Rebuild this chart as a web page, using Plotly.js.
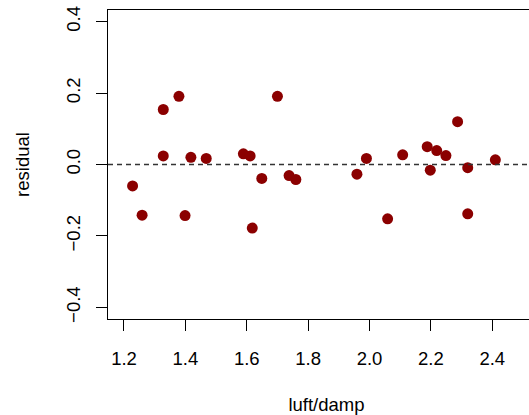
<!DOCTYPE html>
<html>
<head>
<meta charset="utf-8">
<script src="https://cdn.plot.ly/plotly-3.0.1.min.js"></script>
<style>
html, body { margin: 0; padding: 0; background: #fff; overflow: hidden; width: 529px; height: 415px; }
#chart { width: 560px; height: 415px; }
</style>
</head>
<body>
<div id="chart"></div>
<script>
// luft/damp ratio (x) and residuals (y)
const luftDamp = [1.228, 1.259, 1.328, 1.328, 1.379, 1.399, 1.418, 1.468,
                  1.589, 1.611, 1.618, 1.649, 1.700, 1.738, 1.760,
                  1.959, 1.990, 2.059, 2.108, 2.188, 2.198, 2.219, 2.249,
                  2.287, 2.320, 2.320, 2.410];
const residual = [-0.060, -0.142, 0.154, 0.024, 0.191, -0.143, 0.020, 0.017,
                  0.030, 0.024, -0.178, -0.039, 0.191, -0.031, -0.042,
                  -0.027, 0.017, -0.152, 0.027, 0.050, -0.016, 0.039, 0.025,
                  0.120, -0.009, -0.138, 0.013];
const xTicks = [1.2, 1.4, 1.6, 1.8, 2.0, 2.2, 2.4];
const xTickText = ['1.2', '1.4', '1.6', '1.8', '2.0', '2.2', '2.4'];
const yTicks = [-0.4, -0.2, 0.0, 0.2, 0.4];
const yTickText = ['\u22120.4', '\u22120.2', '0.0', '0.2', '0.4'];

const font = { family: 'Liberation Sans, Arial, sans-serif', size: 18.5, color: '#000' };

const trace = {
  x: luftDamp,
  y: residual,
  type: 'scatter',
  mode: 'markers',
  marker: { color: '#8B0000', size: 11 },
  hoverinfo: 'x+y'
};

const layout = {
  width: 560,
  height: 415,
  margin: { l: 108, r: 15, t: 10, b: 96 },
  paper_bgcolor: '#fff',
  plot_bgcolor: '#fff',
  showlegend: false,
  font: font,
  xaxis: {
    range: [1.1479, 2.5718],
    tickvals: xTicks,
    ticktext: xTickText,
    ticks: 'outside',
    ticklen: 11,
    tickwidth: 1,
    tickcolor: '#000',
    showline: true,
    mirror: true,
    linecolor: '#000',
    linewidth: 1,
    showgrid: false,
    zeroline: false,
    tickfont: font,
    ticklabelstandoff: 12,
    title: { text: 'luft/damp', font: font, standoff: 30 },
    automargin: false
  },
  yaxis: {
    range: [-0.4325, 0.4325],
    tickvals: yTicks,
    ticktext: yTickText,
    tickangle: -90,
    ticks: 'outside',
    ticklen: 11,
    tickwidth: 1,
    tickcolor: '#000',
    showline: true,
    mirror: true,
    linecolor: '#000',
    linewidth: 1,
    showgrid: false,
    zeroline: false,
    tickfont: font,
    ticklabelstandoff: 9,
    title: { text: 'residual', font: font, standoff: 28 },
    automargin: false
  },
  shapes: [{
    type: 'line', xref: 'paper', x0: 0, x1: 1, yref: 'y', y0: 0, y1: 0,
    line: { color: '#333', width: 1.5, dash: '5px,4px' }
  }]
};

Plotly.newPlot('chart', [trace], layout, { staticPlot: true, displayModeBar: false });
</script>
</body>
</html>
